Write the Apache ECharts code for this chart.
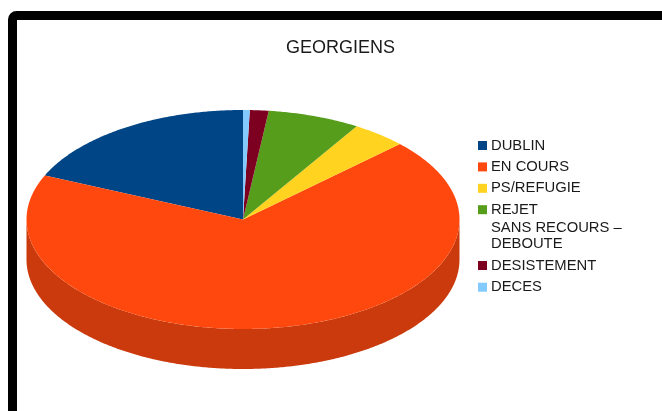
<!DOCTYPE html>
<html>
<head>
<meta charset="utf-8">
<style>
html,body{margin:0;padding:0;background:#fff;}
#chart{width:662px;height:411px;}
</style>
<script src="https://cdn.jsdelivr.net/npm/echarts@6/dist/echarts.min.js"></script>
</head>
<body>
<div id="chart"></div>
<script>
const titleText = 'GEORGIENS';
const categories = ['DUBLIN', 'EN COURS', 'PS/REFUGIE', 'REJET\nSANS RECOURS –\nDEBOUTE', 'DESISTEMENT', 'DECES'];
const values = [18.4, 68.7, 4.1, 6.9, 1.4, 0.5];
const colors = ['#004586', '#ff480e', '#ffd320', '#579d1c', '#7e0021', '#83caff'];
const wallColors = ['#003a70', '#cb3a0c', '#cca91a', '#467d16', '#65001a', '#69a2cc'];

const cx = 243, cy = 219.5, rx = 216.5, ry = 109.5, depth = 40;
const total = values.reduce(function (a, b) { return a + b; }, 0);

// slices run counter clockwise from 12 o'clock
function rim(deg, drop) {
    let t = deg * Math.PI / 180;
    return [cx - rx * Math.sin(t), cy - ry * Math.cos(t) + drop];
}

function renderSlice(index) {
    return function (params, api) {
        let start = 0;
        for (let i = 0; i < index; i++) start += values[i] / total * 360;
        let end = start + api.value(0) / total * 360;

        let face = [[cx, cy]];
        for (let a = start; a < end; a += 0.5) face.push(rim(a, 0));
        face.push(rim(end, 0));

        let children = [];
        // only the front half of the rim shows a wall
        let from = Math.max(start, 90), to = Math.min(end, 270);
        if (to > from) {
            let upper = [], lower = [];
            for (let a = from; a < to; a += 0.5) {
                upper.push(rim(a, 0));
                lower.unshift(rim(a, depth));
            }
            upper.push(rim(to, 0));
            lower.unshift(rim(to, depth));
            children.push({
                type: 'polygon',
                shape: { points: upper.concat(lower) },
                style: { fill: wallColors[index] }
            });
        }
        children.push({
            type: 'polygon',
            shape: { points: face },
            style: { fill: colors[index] }
        });
        return { type: 'group', children: children };
    };
}

const chart = echarts.init(document.getElementById('chart'));
const fontName = '"Liberation Sans", Arial, sans-serif';
const legendText = { color: '#1a1a1a', fontFamily: fontName, fontSize: 14.8, padding: [0, 0, 0, -1] };

function firstLine(name) {
    return name.split('\n')[0];
}

const extraLines = categories[3].split('\n').slice(1);

chart.setOption({
    animation: false,
    backgroundColor: '#fff',
    title: {
        text: titleText,
        left: 335.5,
        top: 34,
        textAlign: 'center',
        textStyle: { color: '#1a1a1a', fontFamily: fontName, fontSize: 18, fontWeight: 'normal' }
    },
    legend: [{
        data: categories.slice(0, 4),
        orient: 'vertical',
        left: 478,
        top: 138,
        padding: 0,
        icon: 'rect',
        itemWidth: 9,
        itemHeight: 9,
        itemGap: 6.4,
        formatter: firstLine,
        textStyle: legendText
    }, {
        data: categories.slice(4),
        orient: 'vertical',
        left: 478,
        top: 258,
        padding: 0,
        icon: 'rect',
        itemWidth: 9,
        itemHeight: 9,
        itemGap: 6.7,
        textStyle: legendText
    }],
    graphic: [{
        type: 'rect',
        shape: { x: 12.5, y: 15.5, width: 800, height: 600, r: 4 },
        style: { fill: 'none', stroke: '#000', lineWidth: 9 }
    }, {
        type: 'text',
        x: 491,
        y: 220,
        style: { text: extraLines[0], fill: '#1a1a1a', font: '14.8px ' + fontName }
    }, {
        type: 'text',
        x: 491,
        y: 236,
        style: { text: extraLines[1], fill: '#1a1a1a', font: '14.8px ' + fontName }
    }],
    series: categories.map(function (name, i) {
        return {
            type: 'custom',
            name: name,
            coordinateSystem: 'none',
            silent: true,
            itemStyle: { color: colors[i] },
            data: [values[i]],
            renderItem: renderSlice(i)
        };
    })
});
</script>
</body>
</html>
